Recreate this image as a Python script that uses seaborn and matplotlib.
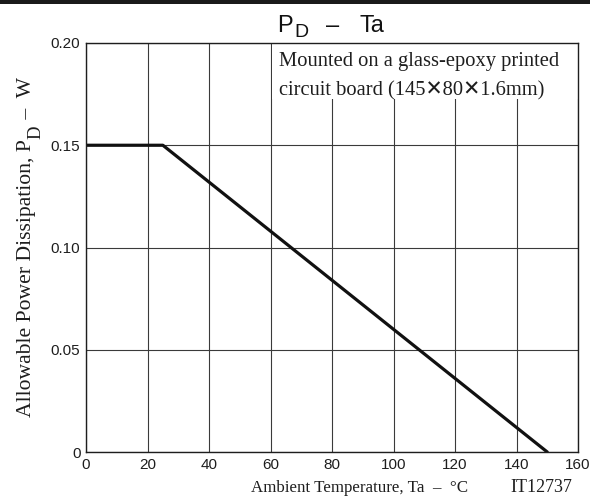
import numpy as np
import pandas as pd
import matplotlib
matplotlib.use("Agg")
import matplotlib.pyplot as plt
from matplotlib.patches import Rectangle
import seaborn as sns

# derating curve
ta = [0, 25, 150]
pd_w = [0.15, 0.15, 0.0]

x_ticks = [0, 20, 40, 60, 80, 100, 120, 140, 160]
y_ticks = [0, 0.05, 0.10, 0.15, 0.20]
y_tick_labels = ["0", "0.05", "0.10", "0.15", "0.20"]

note_lines = ["Mounted on a glass-epoxy printed",
              "circuit board (145\u271580\u27151.6mm)"]

df = pd.DataFrame({"Ta": ta, "PD": pd_w})

sns.set_style("white")
plt.rcParams["font.family"] = ["Liberation Sans", "DejaVu Sans"]
SERIF = ["Liberation Serif", "DejaVu Sans"]
INK = "#1e1e1e"

W, H = 590, 499
fig = plt.figure(figsize=(5.9, 4.99), dpi=100)
ax = fig.add_axes([86 / W, 47 / H, 492 / W, 409 / H])

sns.lineplot(data=df, x="Ta", y="PD", color="#111111", linewidth=2.3,
             ax=ax, zorder=5)

ax.set_xlim(0, 160)
ax.set_ylim(0, 0.20)
ax.set_xticks(x_ticks)
ax.set_yticks(y_ticks)
ax.set_yticklabels(y_tick_labels)
ax.tick_params(axis="both", length=0, labelsize=11, pad=4, colors=INK)
ax.grid(True, color="#3a3a3a", linewidth=0.8)
ax.set_axisbelow(True)
for s in ax.spines.values():
    s.set_color(INK)
    s.set_linewidth(1.0)
    s.set_zorder(6)
ax.set_xlabel("")
ax.set_ylabel("")

# note box over the grid
ax.add_patch(Rectangle((60.4, 0.1725), 99.6, 0.0275, facecolor="white",
                       edgecolor="none", zorder=3))


def px(x, y):
    # pixel position (from top-left) -> figure fraction
    return x / W, 1 - y / H


fig.text(*px(279, 66), note_lines[0], family=SERIF, fontsize=14.8,
         ha="left", va="baseline", color=INK, zorder=7)
fig.text(*px(279, 95), note_lines[1], family=SERIF, fontsize=14.8,
         ha="left", va="baseline", color=INK, zorder=7)

# title P_D - Ta, pieces placed by hand
fig.text(*px(277, 32), "P", fontsize=17, ha="left", va="baseline", color="#111111")
fig.text(*px(294, 37), "D", fontsize=14, ha="left", va="baseline", color="#111111")
fig.text(*px(326, 32), "\u2013", fontsize=17, ha="left", va="baseline", color="#111111")
fig.text(*px(359, 32), "Ta", fontsize=17, ha="left", va="baseline", color="#111111")

# y label, built from pieces going upward
fig.canvas.draw()
r = fig.canvas.get_renderer()
t1 = fig.text(*px(31, 417), "Allowable Power Dissipation, P", family=SERIF,
              fontsize=15.6, rotation=90, rotation_mode="anchor",
              ha="left", va="baseline", color=INK)
bb = t1.get_window_extent(r)
t2 = fig.text(bb.x1 / W + 4 / W, (bb.y1 + 0.5) / H, "D", family=SERIF,
              fontsize=13.5, rotation=90, rotation_mode="anchor",
              ha="left", va="baseline", color=INK)
bb2 = t2.get_window_extent(r)
fig.text(31 / W, (bb2.y1 + 1) / H, " \u2013  W", family=SERIF,
         fontsize=15.6, rotation=90, rotation_mode="anchor",
         ha="left", va="baseline", color=INK)

fig.text(*px(360, 492), "Ambient Temperature, Ta  \u2013  °C", family=SERIF,
         fontsize=12.2, ha="center", va="baseline", color=INK)
fig.text(*px(541, 492), "IT12737", family=SERIF, fontsize=13,
         ha="center", va="baseline", color=INK)

# black strip on top
fig.patches.append(Rectangle((0, 1 - 4 / H), 1, 4 / H, transform=fig.transFigure,
                             facecolor="#1a1a1a", edgecolor="none"))

fig.savefig("out.png", dpi=100)
